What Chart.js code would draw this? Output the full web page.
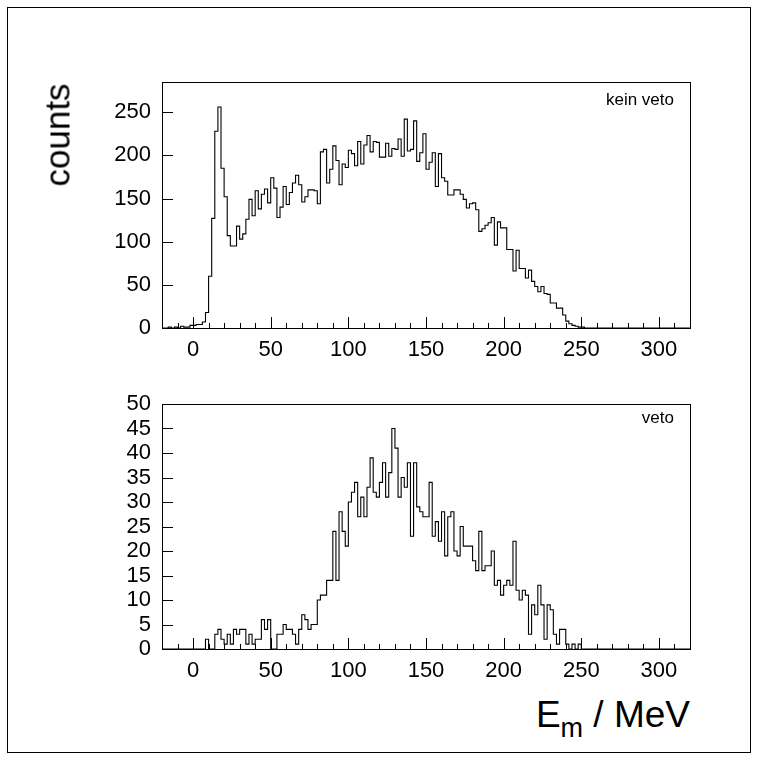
<!DOCTYPE html>
<html>
<head>
<meta charset="utf-8">
<script src="https://cdn.jsdelivr.net/npm/chart.js@4.4.0/dist/chart.umd.min.js"></script>
<style>
  body { margin: 0; background: #fff; width: 758px; height: 760px; position: relative; overflow: hidden;
         font-family: "Liberation Sans", Arial, sans-serif; color: #000; }
  #frame { position: absolute; left: 7px; top: 7px; width: 742px; height: 744px; border: 1px solid #000; }
  canvas { position: absolute; left: 0; }
  #c1 { top: 0; }
  #c2 { top: 370px; }
  .txt { position: absolute; white-space: nowrap; line-height: 1; }
  #ytitle { font-size: 35px; left: 57px; top: 135px; transform: translate(-50%, -50%) rotate(-90deg); }
  #xtitle { font-size: 37px; right: 68px; top: 696px; }
  #xtitle sub { font-size: 27px; vertical-align: -10px; line-height: 0; }
  .tag { font-size: 17px; right: 84px; }
</style>
</head>
<body>
<div id="frame"></div>
<canvas id="c1" width="758" height="370"></canvas>
<canvas id="c2" width="758" height="320"></canvas>
<div class="txt" id="ytitle">counts</div>
<div class="txt" id="xtitle">E<sub>m</sub> / MeV</div>
<div class="txt tag" style="top:91px">kein veto</div>
<div class="txt tag" style="top:409px">veto</div>
<script>
// histogram binning: 2 MeV bins from -20 to 320 MeV
var binLow = -20;
var binWidth = 2;

// counts per bin, kein veto (10 bins = 20 MeV per row)
var countsKeinVeto = [
  0, 0, 1, 0, 1, 0, 2, 1, 1, 3,
  3, 4, 4, 7, 18, 60, 127, 228, 256, 185,
  152, 107, 95, 95, 118, 103, 109, 126, 149, 130,
  159, 138, 155, 161, 145, 174, 162, 128, 140, 164,
  143, 157, 168, 177, 166, 146, 152, 160, 160, 159,
  144, 204, 207, 168, 184, 211, 194, 166, 190, 186,
  206, 202, 188, 216, 190, 212, 223, 204, 216, 215,
  198, 198, 214, 199, 208, 207, 219, 199, 242, 205,
  207, 240, 193, 203, 225, 184, 192, 203, 164, 202,
  174, 170, 154, 154, 160, 160, 155, 149, 139, 144,
  145, 137, 112, 115, 119, 122, 128, 96, 123, 116,
  116, 91, 91, 66, 90, 69, 69, 58, 67, 54,
  48, 42, 48, 40, 39, 29, 29, 23, 23, 15,
  8, 5, 3, 2, 1, 1, 0, 0, 0, 0,
  0, 0, 0, 0, 0, 0, 0, 0, 0, 0,
  0, 0, 0, 0, 0, 0, 0, 0, 0, 0,
  0, 0, 0, 0, 0, 0, 0, 0, 0, 0
];

// counts per bin, veto
var countsVeto = [
  0, 0, 0, 0, 0, 0, 0, 0, 0, 0,
  0, 0, 0, 0, 2, 0, 0, 3, 4, 2,
  1, 3, 1, 4, 3, 4, 4, 1, 3, 1,
  2, 2, 6, 4, 6, 0, 0, 3, 3, 5,
  4, 4, 3, 1, 4, 7, 6, 4, 5, 5,
  10, 11, 11, 14, 14, 24, 14, 28, 24, 21,
  30, 32, 34, 27, 31, 27, 33, 39, 32, 31,
  34, 38, 31, 36, 45, 41, 31, 35, 33, 38,
  23, 38, 29, 28, 27, 27, 34, 23, 26, 22,
  28, 19, 27, 28, 20, 19, 25, 21, 21, 21,
  18, 16, 24, 16, 17, 17, 20, 13, 14, 11,
  13, 14, 13, 22, 12, 10, 12, 11, 3, 9,
  7, 13, 9, 2, 9, 8, 3, 1, 4, 4,
  1, 0, 1, 0, 1, 0, 0, 0, 0, 0,
  0, 0, 0, 0, 0, 0, 0, 0, 0, 0,
  0, 0, 0, 0, 0, 0, 0, 0, 0, 0,
  0, 0, 0, 0, 0, 0, 0, 0, 0, 0
];

var xTicks = [0, 50, 100, 150, 200, 250, 300];
var yTicksTop = [0, 50, 100, 150, 200, 250];
var yTicksBottom = [0, 5, 10, 15, 20, 25, 30, 35, 40, 45, 50];

Chart.defaults.font.family = '"Liberation Sans", Arial, sans-serif';
Chart.defaults.font.size = 22;
Chart.defaults.color = '#000';

function histPoints(counts) {
  var pts = counts.map(function (c, i) { return { x: binLow + i * binWidth, y: c }; });
  pts.push({ x: binLow + counts.length * binWidth, y: counts[counts.length - 1] });
  return pts;
}

// ROOT style frame with ticks pointing inwards
var rootFrame = {
  id: 'rootFrame',
  afterDatasetsDraw: function (chart) {
    var ctx = chart.ctx, a = chart.chartArea, x = chart.scales.x, y = chart.scales.y;
    ctx.save();
    ctx.strokeStyle = '#000';
    ctx.lineWidth = 1;
    ctx.beginPath();
    for (var v = x.min + 10; v < x.max; v += 10) {
      var px = Math.round(x.getPixelForValue(v)) + 0.5;
      var len = (v % 50 === 0) ? 11 : 5;
      ctx.moveTo(px, a.bottom);
      ctx.lineTo(px, a.bottom - len);
    }
    y.ticks.forEach(function (t) {
      var py = Math.round(y.getPixelForValue(t.value)) + 0.5;
      ctx.moveTo(a.left, py);
      ctx.lineTo(a.left + 11, py);
    });
    ctx.stroke();
    ctx.strokeRect(Math.round(a.left) + 0.5, Math.round(a.top) + 0.5,
                   Math.round(a.right - a.left), Math.round(a.bottom - a.top));
    ctx.restore();
  }
};

function makeHist(id, counts, yMax, yTicks, padTop, xHeight) {
  return new Chart(id, {
    type: 'line',
    data: {
      datasets: [{
        data: histPoints(counts),
        stepped: true,
        borderColor: '#000',
        borderWidth: 1.1,
        pointRadius: 0,
        fill: false,
        clip: false
      }]
    },
    options: {
      responsive: false,
      animation: false,
      devicePixelRatio: 1,
      layout: { padding: { top: padTop, right: 68, left: 0, bottom: 0 } },
      plugins: { legend: { display: false }, tooltip: { enabled: false } },
      scales: {
        x: {
          type: 'linear', min: -20, max: 320,
          grid: { display: false, drawTicks: false },
          border: { display: false },
          afterBuildTicks: function (s) { s.ticks = xTicks.map(function (v) { return { value: v }; }); },
          afterFit: function (s) { s.height = xHeight; },
          ticks: { padding: 9, maxRotation: 0, autoSkip: false }
        },
        y: {
          type: 'linear', min: 0, max: yMax,
          grid: { display: false, drawTicks: false },
          border: { display: false },
          afterBuildTicks: function (s) { s.ticks = yTicks.map(function (v) { return { value: v }; }); },
          afterFit: function (s) { s.width = 162; },
          ticks: { padding: 11, autoSkip: false }
        }
      }
    },
    plugins: [rootFrame]
  });
}

makeHist('c1', countsKeinVeto, 285, yTicksTop, 82, 42);
makeHist('c2', countsVeto, 50, yTicksBottom, 34, 41);
</script>
</body>
</html>
